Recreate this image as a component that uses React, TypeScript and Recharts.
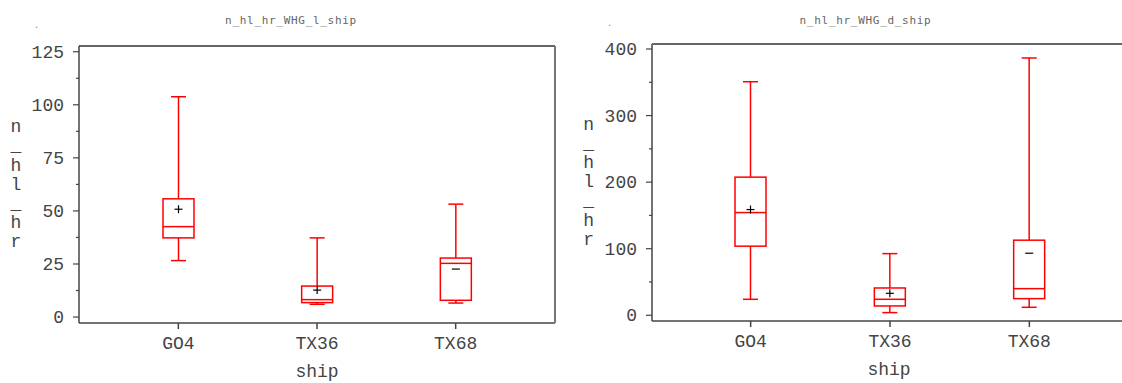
import { ComposedChart, Bar, XAxis, YAxis } from "recharts";

// categories
const ships = ["GO4", "TX36", "TX68"];

// n_hl_hr_WHG_l_ship
const lMin = [26.6, 6.0, 6.6];
const lQ1 = [37.3, 6.8, 7.9];
const lMed = [42.6, 8.2, 25.3];
const lQ3 = [55.7, 14.6, 27.8];
const lMax = [103.8, 37.3, 53.2];
const lMean = [50.8, 12.7, 22.6];

// n_hl_hr_WHG_d_ship
const dMin = [24, 4, 12];
const dQ1 = [103.8, 14, 25];
const dMed = [154.3, 24, 40];
const dQ3 = [207.5, 41, 112.8];
const dMax = [350.8, 92.6, 386.5];
const dMean = [158.8, 33, 93.2];

// mean symbol as printed in the plot
const meanMarks = ["+", "+", "-"];

const lTicks = [0, 12.5, 25, 37.5, 50, 62.5, 75, 87.5, 100, 112.5, 125];
const dTicks = [0, 50, 100, 150, 200, 250, 300, 350, 400];

const FONT = "'Liberation Mono', 'DejaVu Sans Mono', monospace";
const RED = "#ff0000";
const AXIS = "#444";
const TXT = "#444";

const build = (mn: number[], q1: number[], med: number[], q3: number[], mx: number[], mean: number[]) =>
  ships.map((s, i) => ({
    ship: s,
    min: mn[i],
    q1: q1[i],
    med: med[i],
    q3: q3[i],
    max: mx[i],
    mean: mean[i],
    mark: meanMarks[i],
  }));

const lData = build(lMin, lQ1, lMed, lQ3, lMax, lMean);
const dData = build(dMin, dQ1, dMed, dQ3, dMax, dMean);

// box drawn inside the range bar [min, max]; inner values placed on the same scale
const BoxShape = (props: any) => {
  const { x, y, width, height, payload } = props;
  if (!payload) return null;
  const { min, max, q1, q3, med, mean, mark } = payload;
  const py = (v: number) => y + (height * (max - v)) / (max - min);
  const cx = x + width / 2;
  const cap = 7.5;
  return (
    <g>
      <line x1={cx} x2={cx} y1={py(max)} y2={py(q3)} stroke={RED} strokeWidth={1.5} />
      <line x1={cx} x2={cx} y1={py(q1)} y2={py(min)} stroke={RED} strokeWidth={1.5} />
      <line x1={cx - cap} x2={cx + cap} y1={py(max)} y2={py(max)} stroke={RED} strokeWidth={1.5} />
      <line x1={cx - cap} x2={cx + cap} y1={py(min)} y2={py(min)} stroke={RED} strokeWidth={1.5} />
      <rect x={x} y={py(q3)} width={width} height={py(q1) - py(q3)} fill="none" stroke={RED} strokeWidth={1.5} />
      <line x1={x} x2={x + width} y1={py(med)} y2={py(med)} stroke={RED} strokeWidth={1.5} />
      <line x1={cx - 4} x2={cx + 4} y1={py(mean)} y2={py(mean)} stroke="#000" strokeWidth={1.2} />
      {mark === "+" && (
        <line x1={cx} x2={cx} y1={py(mean) - 4} y2={py(mean) + 4} stroke="#000" strokeWidth={1.2} />
      )}
    </g>
  );
};

const makeYTick = (major: number) => (props: any) => {
  const { x, y, payload } = props;
  const ax = x + 14;
  const isMajor = payload.value % major === 0;
  return (
    <g>
      <line x1={ax - (isMajor ? 6 : 3)} x2={ax} y1={y} y2={y} stroke={AXIS} strokeWidth={1.2} />
      {isMajor && (
        <text x={x - 1} y={y} dy={6} textAnchor="end" fontFamily={FONT} fontSize={18} fill={TXT}>
          {payload.value}
        </text>
      )}
    </g>
  );
};

interface PanelProps {
  data: any[];
  ticks: number[];
  domain: [number, number];
  major: number;
  width: number;
  yWidth: number;
  top: number;
  right: number;
  xHeight: number;
  padL: number;
  padR: number;
  labelOffset: number;
}

const Panel = ({ data, ticks, domain, major, width, yWidth, top, right, xHeight, padL, padR, labelOffset }: PanelProps) => (
  <ComposedChart width={width} height={383} data={data} margin={{ top, right, left: 0, bottom: 0 }}>
    <XAxis
      dataKey="ship"
      height={xHeight}
      padding={{ left: padL, right: padR }}
      stroke={AXIS}
      strokeWidth={1.5}
      tickSize={6}
      tickMargin={7}
      tick={{ fontFamily: FONT, fontSize: 18, fill: TXT }}
      label={{ value: "ship", position: "insideBottom", offset: labelOffset, fontFamily: FONT, fontSize: 18, fill: TXT }}
    />
    <YAxis
      type="number"
      domain={domain}
      ticks={ticks}
      width={yWidth}
      interval={0}
      stroke={AXIS}
      strokeWidth={1.5}
      tickLine={false}
      tickSize={6}
      tickMargin={8}
      tick={makeYTick(major)}
      allowDataOverflow
    />
    <Bar dataKey={(d: any) => [d.min, d.max]} barSize={31} shape={BoxShape} isAnimationActive={false} />
  </ComposedChart>
);

const slotChars = ["n", "_", "h", "l", "_", "h", "r"];

const StackLabel = ({ x, y0 }: { x: number; y0: number }) => (
  <g>
    {slotChars.map((c, i) => (
      <text key={i} x={x} y={y0 + i * 19.1} textAnchor="middle" fontFamily={FONT} fontSize={18} fill={TXT}>
        {c}
      </text>
    ))}
  </g>
);

export default function App() {
  return (
    <div style={{ position: "absolute", left: 0, top: 0, width: 1122, height: 383, overflow: "hidden", background: "#fff" }}>
      <div style={{ position: "absolute", left: 0, top: 0 }}>
        <Panel data={lData} ticks={lTicks} domain={[-2.8, 127.7]} major={25} width={561} yWidth={79} top={46} right={6} xHeight={60} padL={30} padR={30} labelOffset={6} />
      </div>
      <div style={{ position: "absolute", left: 561, top: 0 }}>
        <Panel data={dData} ticks={dTicks} domain={[-8.6, 407.5]} major={100} width={570} yWidth={91} top={44} right={5} xHeight={62} padL={29} padR={27} labelOffset={8} />
      </div>
      <svg width={1122} height={383} style={{ position: "absolute", left: 0, top: 0, pointerEvents: "none" }}>
        {/* frame: top and right edges of the plot boxes */}
        <line x1={79} x2={555} y1={46} y2={46} stroke="#333" strokeWidth={1.5} />
        <line x1={555} x2={555} y1={46} y2={323} stroke="#777" strokeWidth={2} />
        <line x1={652} x2={1122} y1={44} y2={44} stroke="#666" strokeWidth={2} />
        <text x={35} y={28} fontFamily="'DejaVu Sans'" fontSize={10} fill="#888">.</text>
        <text x={608} y={26} fontFamily="'DejaVu Sans'" fontSize={10} fill="#888">.</text>
        <text x={291} y={24} textAnchor="middle" fontFamily="'DejaVu Sans Mono'" fontSize={11} letterSpacing={0.7} fill="#666">
          n_hl_hr_WHG_l_ship
        </text>
        <text x={865.5} y={24} textAnchor="middle" fontFamily="'DejaVu Sans Mono'" fontSize={11} letterSpacing={0.7} fill="#666">
          n_hl_hr_WHG_d_ship
        </text>
        <StackLabel x={16} y0={132.3} />
        <StackLabel x={588.7} y0={130} />
      </svg>
    </div>
  );
}
